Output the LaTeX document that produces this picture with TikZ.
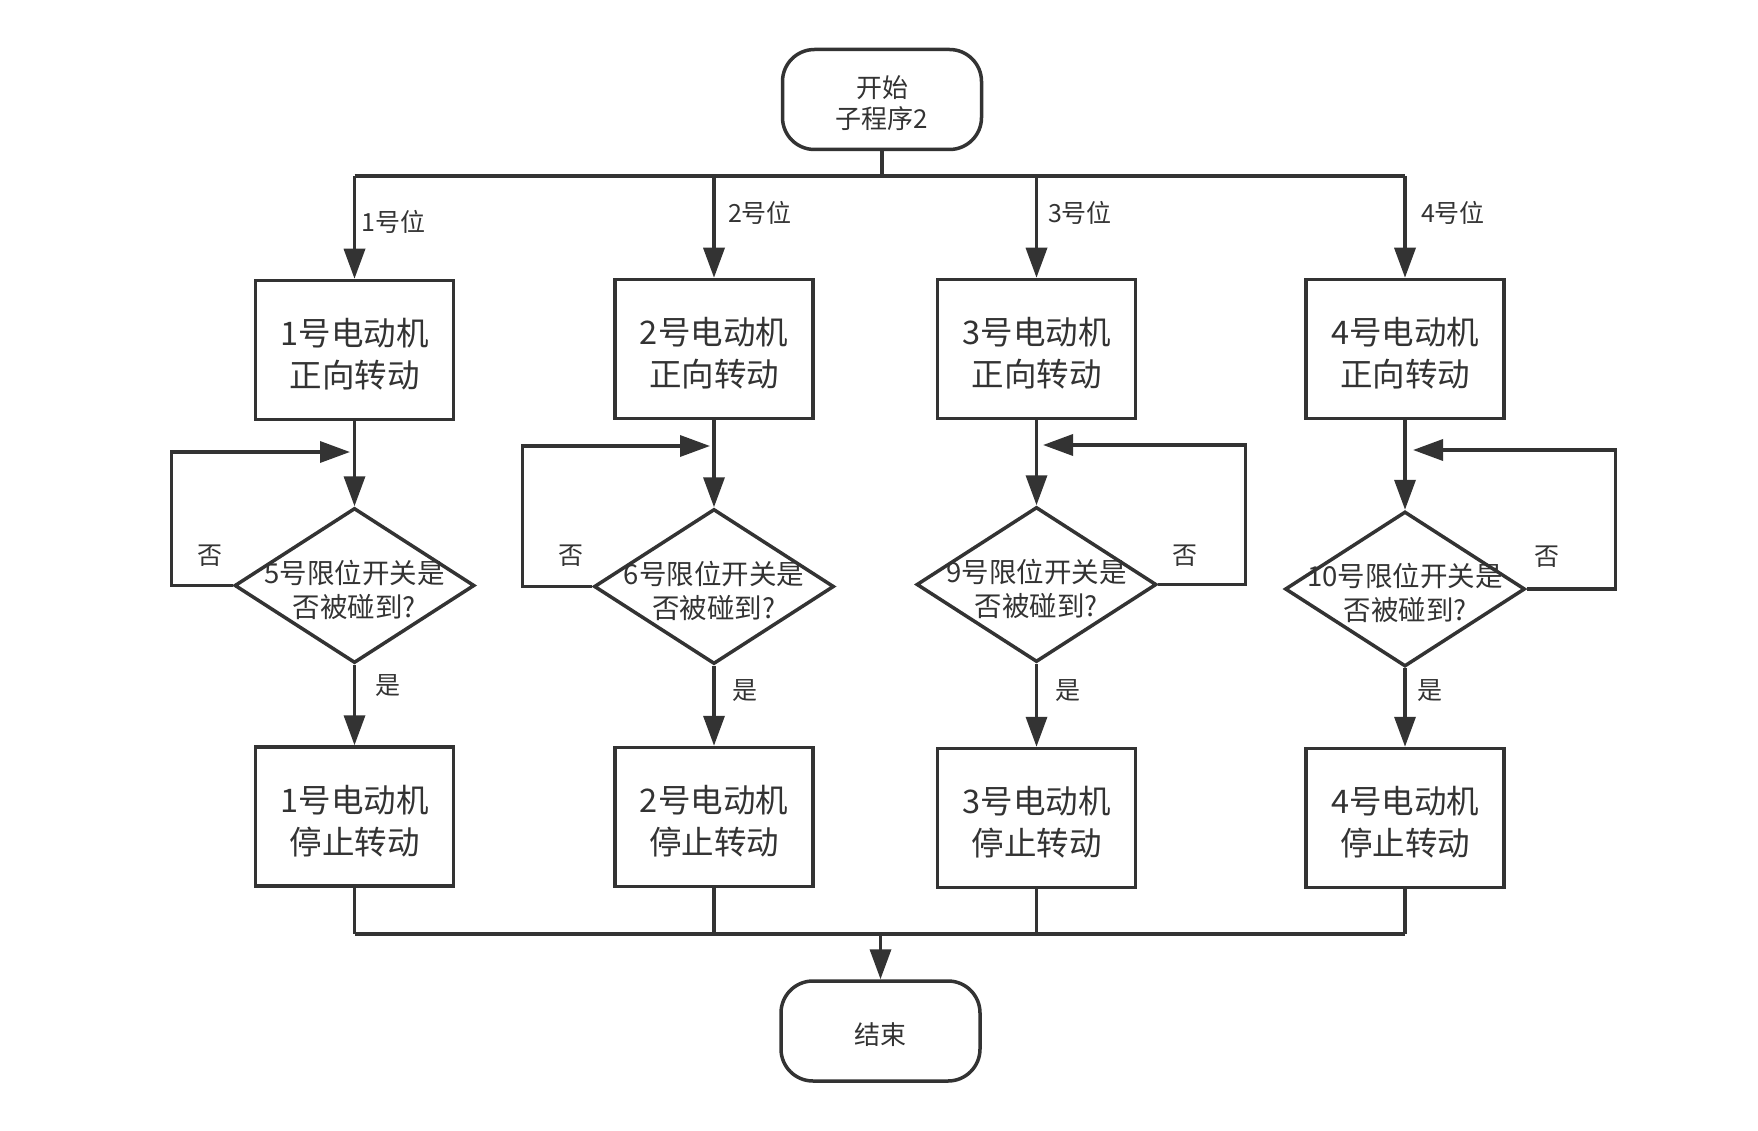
\documentclass[tikz,border=0pt]{standalone}
\usepackage{fontspec}
\setmainfont{Noto Sans CJK SC}
\usetikzlibrary{arrows.meta,shapes.geometric}
\definecolor{ink}{HTML}{333333}
\tikzset{
  line/.style={draw=ink, line width=3.5pt},
  arr/.style={line, -{Triangle[length=30pt,width=21pt]}},
  procbox/.style={draw=ink, line width=3.5pt, minimum width=198pt, minimum height=139pt, inner sep=0pt},
  btext/.style={align=center, font=\fontsize{32.5}{42}\selectfont, text=ink, inner sep=0pt},
  term/.style={draw=ink, line width=3.5pt, rounded corners=32pt, minimum width=199pt, minimum height=100pt, inner sep=0pt},
  ttext/.style={align=center, font=\fontsize{26}{31}\selectfont, text=ink, inner sep=0pt},
  decis/.style={diamond, draw=ink, line width=3.5pt, minimum width=240pt, minimum height=155pt, inner sep=0pt},
  dtext/.style={align=center, font=\fontsize{27.5}{34}\selectfont, text=ink, inner sep=0pt},
  lbl/.style={font=\fontsize{25}{30}\selectfont, text=ink, inner sep=0pt},
}
\begin{document}
\begin{tikzpicture}[x=1pt,y=-1pt]
\fill[white] (0,0) rectangle (1758,1131);
\useasboundingbox (0,0) rectangle (1758,1131);

% terminals
\node[term] (start) at (882,99.5) {};
\node[ttext] (startt) at (882,103.5) {开始\\子程序2};
\node[term] (end) at (880.5,1031) {};
\node[ttext] (endt) at (880.5,1034.5) {结束};

% column 1
\node[procbox] (a1) at (354.5,350) {};
\node[btext] (a1t) at (354.5,354.5) {1号电动机\\正向转动};
\node[decis] (d1) at (354.5,585.5) {};
\node[dtext] (t1) at (354.5,589.5) {5号限位开关是\\否被碰到?};
\node[procbox] (b1) at (354.5,816.5) {};
\node[btext] (b1t) at (354.5,821) {1号电动机\\停止转动};
% column 2
\node[procbox] (a2) at (714,349) {};
\node[btext] (a2t) at (714,353.5) {2号电动机\\正向转动};
\node[decis] (d2) at (714,586.5) {};
\node[dtext] (t2) at (714,590.5) {6号限位开关是\\否被碰到?};
\node[procbox] (b2) at (714,817) {};
\node[btext] (b2t) at (714,821.5) {2号电动机\\停止转动};
% column 3
\node[procbox] (a3) at (1036.5,349) {};
\node[btext] (a3t) at (1036.5,353.5) {3号电动机\\正向转动};
\node[decis] (d3) at (1036.5,584.5) {};
\node[dtext] (t3) at (1036.5,588.5) {9号限位开关是\\否被碰到?};
\node[procbox] (b3) at (1036.5,818) {};
\node[btext] (b3t) at (1036.5,822.5) {3号电动机\\停止转动};
% column 4
\node[procbox] (a4) at (1405,349) {};
\node[btext] (a4t) at (1405,353.5) {4号电动机\\正向转动};
\node[decis] (d4) at (1405,589) {};
\node[dtext] (t4) at (1405,593) {10号限位开关是\\否被碰到?};
\node[procbox] (b4) at (1405,818) {};
\node[btext] (b4t) at (1405,822.5) {4号电动机\\停止转动};

% top bus
\coordinate (busL) at (354.5,176);
\coordinate (busM) at (882,176);
\coordinate (bus2) at (714,176);
\coordinate (bus3) at (1036.5,176);
\coordinate (busR) at (1405,176);
\draw[line] (start.south) -- (busM);
\draw[line] (busL) -- (busR);
\draw[arr] (busL) -- (a1.north);
\draw[arr] (bus2) -- (a2.north);
\draw[arr] (bus3) -- (a3.north);
\draw[arr] (busR) -- (a4.north);
\node[lbl] (p1) at (393.5,222) {1号位};
\node[lbl] (p2) at (760,213) {2号位};
\node[lbl] (p3) at (1080,213) {3号位};
\node[lbl] (p4) at (1453,213) {4号位};

% box -> decision
\draw[arr] (a1.south) -- (d1.north);
\draw[arr] (a2.south) -- (d2.north);
\draw[arr] (a3.south) -- (d3.north);
\draw[arr] (a4.south) -- (d4.north);

% yes branches
\draw[arr] (d1.south) -- (b1.north);
\draw[arr] (d2.south) -- (b2.north);
\draw[arr] (d3.south) -- (b3.north);
\draw[arr] (d4.south) -- (b4.north);
\node[lbl] (y1) at (388,686) {是};
\node[lbl] (y2) at (744.5,690.5) {是};
\node[lbl] (y3) at (1067.5,690.5) {是};
\node[lbl] (y4) at (1429.5,690.5) {是};

% no loops
\coordinate (l1) at (171.5,452);
\coordinate (e1) at (350,452);
\draw[arr] (d1.west) -| (l1) -- (e1);
\coordinate (l2) at (522.5,446);
\coordinate (e2) at (710,446);
\draw[arr] (d2.west) -| (l2) -- (e2);
\coordinate (l3) at (1245.5,445);
\coordinate (e3) at (1043,445);
\draw[arr] (d3.east) -| (l3) -- (e3);
\coordinate (l4) at (1615.5,450);
\coordinate (e4) at (1413,450);
\draw[arr] (d4.east) -| (l4) -- (e4);
\node[lbl] (n1) at (209.5,556) {否};
\node[lbl] (n2) at (570.5,556) {否};
\node[lbl] (n3) at (1185,556) {否};
\node[lbl] (n4) at (1547,557) {否};

% bottom bus
\coordinate (bb1) at (354.5,934);
\coordinate (bb2) at (714,934);
\coordinate (bb3) at (1036.5,934);
\coordinate (bb4) at (1405,934);
\coordinate (bbM) at (880.5,934);
\draw[line] (b1.south) -- (bb1);
\draw[line] (b2.south) -- (bb2);
\draw[line] (b3.south) -- (bb3);
\draw[line] (b4.south) -- (bb4);
\draw[line] (bb1) -- (bb4);
\draw[arr] (bbM) -- (end.north);
\end{tikzpicture}
\end{document}
